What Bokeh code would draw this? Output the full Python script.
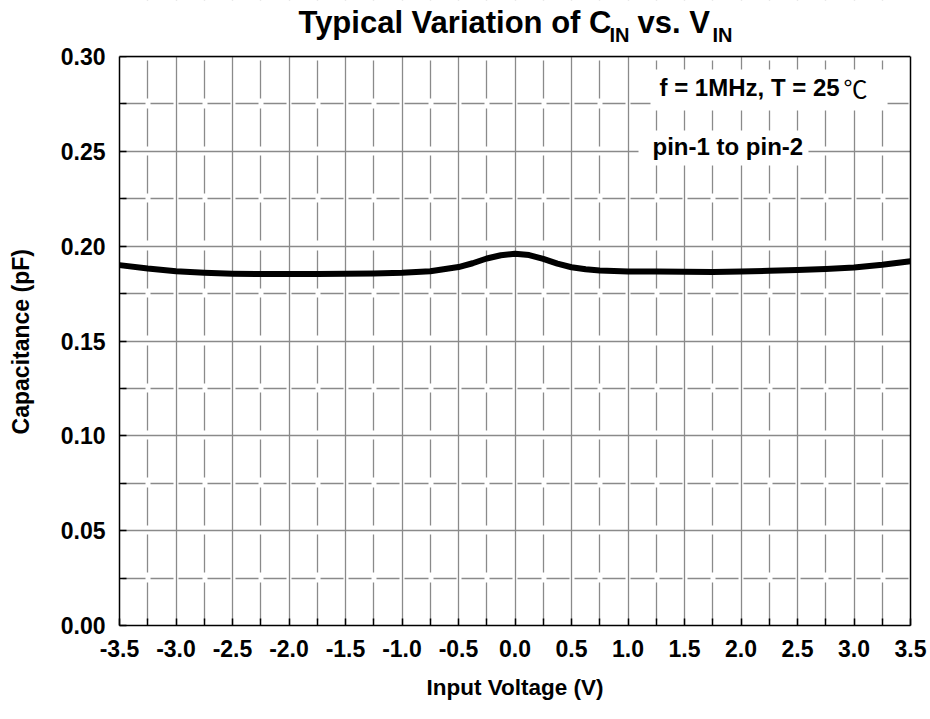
from bokeh.plotting import figure
from bokeh.models import (FixedTicker, PrintfTickFormatter, Label, Range1d, BoxAnnotation,
                          Span, LinearAxis)
from bokeh.embed import file_html
from bokeh.resources import INLINE

# ---- data ----
voltage = [-3.5, -3.25, -3.0, -2.75, -2.5, -2.25, -2.0, -1.75, -1.5, -1.25, -1.0, -0.75,
           -0.5, -0.375, -0.25, -0.125, 0.0, 0.125, 0.25, 0.375, 0.5, 0.625, 0.75,
           1.0, 1.25, 1.5, 1.75, 2.0, 2.25, 2.5, 2.75, 3.0, 3.25, 3.5]
capacitance = [0.1900, 0.1882, 0.1868, 0.1860, 0.1855, 0.1853, 0.1853, 0.1853, 0.1854, 0.1856, 0.1860, 0.1868,
               0.1890, 0.1910, 0.1935, 0.1952, 0.1960, 0.1953, 0.1933, 0.1908, 0.1889, 0.1878, 0.1872,
               0.1867, 0.1866, 0.1865, 0.1864, 0.1866, 0.1870, 0.1874, 0.1879, 0.1887, 0.1902, 0.1921]

x_major = [-3.5, -3.0, -2.5, -2.0, -1.5, -1.0, -0.5, 0.0, 0.5, 1.0, 1.5, 2.0, 2.5, 3.0, 3.5]
x_minor = [-3.25, -2.75, -2.25, -1.75, -1.25, -0.75, -0.25, 0.25, 0.75, 1.25, 1.75, 2.25, 2.75, 3.25]
y_major = [0.00, 0.05, 0.10, 0.15, 0.20, 0.25, 0.30]
y_minor = [0.025, 0.075, 0.125, 0.175, 0.225, 0.275]

title_main = "Typical Variation of C"
title_mid = "vs. V"
title_sub = "IN"
note_1 = "f = 1MHz, T = 25"
note_1_unit = "\u2103"
note_2 = "pin-1 to pin-2"
x_title = "Input Voltage (V)"
y_title = "Capacitance (pF)"

FONT = "Liberation Sans"
GRID = "#8a8a8a"
W, H = 930, 719
X0, X1 = -3.5, 3.5
Y0, Y1 = 0.0, 0.30
# the frame reaches up to the top of the page so the title can sit inside it;
# the chart box itself stops at Y1 (top border drawn at Y1)
Y_TOP = Y1 * 625.0 / 569.0

p = figure(width=W, height=H, output_backend="svg", toolbar_location=None,
           x_range=Range1d(X0, X1), y_range=Range1d(Y0, Y_TOP), title=None,
           min_border_left=119, min_border_right=20, min_border_top=0, min_border_bottom=94)

p.outline_line_color = None
p.background_fill_color = "white"

p.xaxis.ticker = FixedTicker(ticks=x_major, minor_ticks=x_minor)
p.yaxis.ticker = FixedTicker(ticks=y_major, minor_ticks=y_minor)
p.xaxis.formatter = PrintfTickFormatter(format="%.1f")
p.yaxis.formatter = PrintfTickFormatter(format="%.2f")
p.yaxis.bounds = (Y0, Y1)

for ax in (p.xaxis[0], p.yaxis[0]):
    ax.axis_line_color = "black"
    ax.axis_line_width = 1.5
    ax.major_tick_in = 7
    ax.major_tick_out = 0
    ax.minor_tick_in = 7
    ax.minor_tick_out = 0
    ax.major_tick_line_color = "black"
    ax.minor_tick_line_color = "black"
    ax.major_tick_line_width = 1.5
    ax.minor_tick_line_width = 1.5
    ax.major_label_text_font = FONT
    ax.major_label_text_font_style = "bold"
    ax.major_label_text_font_size = "23px"
    ax.major_label_text_color = "black"
    ax.axis_label_text_font = FONT
    ax.axis_label_text_font_style = "bold"
    ax.axis_label_text_color = "black"
p.xaxis.axis_label_text_font_size = "22.5px"
p.yaxis.axis_label_text_font_size = "23px"

p.xaxis.axis_label = x_title
# trailing no-break spaces keep the label centred on the chart box, not the taller frame
p.yaxis.axis_label = y_title + "\u00a0" * 9
p.xaxis.major_label_standoff = 14
p.xaxis.axis_label_standoff = 15
p.yaxis.major_label_standoff = 14
p.yaxis.axis_label_standoff = 24

# right border of the chart box
p.add_layout(LinearAxis(bounds=(Y0, Y1), ticker=FixedTicker(ticks=[]), axis_line_color="black",
                        axis_line_width=1.5, major_tick_line_color=None, minor_tick_line_color=None),
             "right")

for g in (p.xgrid[0], p.ygrid[0]):
    g.grid_line_color = GRID
    g.grid_line_width = 1.3
    g.minor_grid_line_color = GRID
    g.minor_grid_line_width = 1.3
p.xgrid.ticker = FixedTicker(ticks=x_major, minor_ticks=x_minor)
p.ygrid.ticker = FixedTicker(ticks=y_major, minor_ticks=y_minor)
p.xgrid.minor_grid_line_dash = "38 9 38 10 38 9 38 10 38 9"
p.xgrid.minor_grid_line_dash_offset = 42
p.ygrid.minor_grid_line_dash = "23 5 23 5 23 5 24 5"
p.ygrid.minor_grid_line_dash_offset = 25

p.line(voltage, capacitance, line_color="black", line_width=6, line_join="round", line_cap="round")

# blank the title strip above the chart box, then draw the box's top border
p.add_layout(BoxAnnotation(bottom=Y1, fill_color="white", fill_alpha=1.0, line_color=None))
p.add_layout(Span(location=Y1, dimension="width", line_color="black", line_width=1.5))

# white boxes behind the two notes
p.add_layout(BoxAnnotation(left=1.199, right=3.297, bottom=0.2715, top=0.2931,
                           fill_color="white", fill_alpha=1.0, line_color=None))
p.add_layout(BoxAnnotation(left=1.093, right=2.597, bottom=0.2425, top=0.2610,
                           fill_color="white", fill_alpha=1.0, line_color=None))

def lab(x, y, text, size, style="bold", font=FONT):
    p.add_layout(Label(x=x, y=y, text=text, text_font=font, text_font_size=size,
                       text_font_style=style, text_color="black", text_align="left",
                       text_baseline="middle"))

# title with subscripts
lab(-1.916, 0.3179, title_main, "31px")
lab(0.836, 0.3111, title_sub, "20px")
lab(1.084, 0.3179, title_mid, "31px")
lab(1.748, 0.3111, title_sub, "20px")

# notes
lab(1.279, 0.2837, note_1, "24px")
lab(2.907, 0.2837, note_1_unit, "24px", style="normal", font="Noto Sans CJK SC")
lab(1.217, 0.2523, note_2, "24px")

open("out.html", "w").write(file_html(p, INLINE))
